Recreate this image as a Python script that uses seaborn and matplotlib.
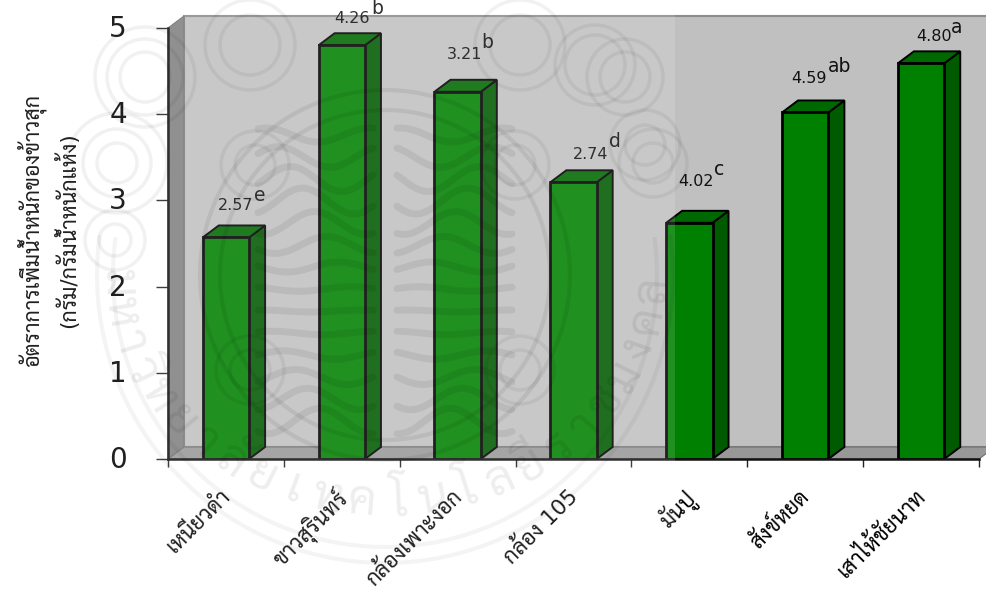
import numpy as np
import pandas as pd
import matplotlib
matplotlib.use('Agg')
import matplotlib.pyplot as plt
from matplotlib.patches import Polygon, Circle, Rectangle, Arc
from matplotlib.transforms import ScaledTranslation
import seaborn as sns

# Rice varieties and the water-uptake rate of the cooked grain
varieties = ['เหนียวดำ', 'ขาวสุรินทร์', 'กล้องเพาะงอก', 'กล้อง 105', 'มันปู', 'สังข์หยด', 'เสาไห้ชัยนาท']
bar_heights = [2.57, 4.80, 4.26, 3.21, 2.74, 4.02, 4.59]
# Printed labels run one bar out of step with the heights, so they stay a separate list
printed_values = ['2.57', '4.26', '3.21', '2.74', '4.02', '4.59', '4.80']
group_letters = ['e', 'b', 'b', 'd', 'c', 'ab', 'a']
y_ticks = [0, 1, 2, 3, 4, 5]

# Label offsets from the front face of each bar, in pixels
value_offsets = [(10, 32), (10, 27), (7, 37), (17, 28), (7, 41), (4, 34), (13, 27)]
letter_offsets = [(34, 42), (35, 37), (30, 49), (41, 41), (30, 53), (34, 46), (36, 36)]

W, H = 987, 589
DPI = 100
LEFT, RIGHT, TOP, BOTTOM = 168, 979, 28, 459
DEPTH_X, DEPTH_Y = 16, 12

sns.set_style('white')
plt.rcParams['font.family'] = ['DejaVu Sans', 'Sarabun']
plt.rcParams['text.color'] = 'black'
plt.rcParams['axes.labelcolor'] = 'black'
plt.rcParams['xtick.labelcolor'] = 'black'
plt.rcParams['ytick.labelcolor'] = 'black'

fig = plt.figure(figsize=(W / DPI, H / DPI), dpi=DPI)
ax = fig.add_axes([LEFT / W, 1 - BOTTOM / H, (RIGHT - LEFT) / W, (BOTTOM - TOP) / H])
ax.set_facecolor('none')

df = pd.DataFrame({'variety': varieties, 'rate': bar_heights})
sns.barplot(data=df, x='variety', y='rate', color='#008000', saturation=1, width=0.4,
            edgecolor='black', linewidth=2, ax=ax, zorder=3)
ax.set_xlim(-0.5, 6.5)
ax.set_ylim(0, 5)

# Box walls in axes fractions, with the depth of the 3D look
dx_ax = DEPTH_X / (RIGHT - LEFT)
dy_ax = DEPTH_Y / (BOTTOM - TOP)
ax.add_patch(Rectangle((dx_ax, dy_ax), 1, 1, transform=ax.transAxes, fc='#C0C0C0',
                       ec='#8c8c8c', lw=1.5, clip_on=False, zorder=0.1))
ax.add_patch(Polygon([(0, 0), (dx_ax, dy_ax), (dx_ax, 1 + dy_ax), (0, 1)], transform=ax.transAxes,
                     fc='#808080', ec='#707070', lw=0.8, clip_on=False, zorder=0.2))
ax.add_patch(Polygon([(0, 0), (dx_ax, dy_ax), (1 + dx_ax, dy_ax), (1, 0)], transform=ax.transAxes,
                     fc='#989898', ec='#6e6e6e', lw=0.8, clip_on=False, zorder=0.2))

# Top and side faces of each bar
dx = DEPTH_X / ((RIGHT - LEFT) / 7)
dy = DEPTH_Y / ((BOTTOM - TOP) / 5)
for bar in list(ax.patches):
    if bar.get_zorder() != 3:
        continue
    x0, x1, h = bar.get_x(), bar.get_x() + bar.get_width(), bar.get_height()
    ax.add_patch(Polygon([(x1, 0), (x1 + dx, dy), (x1 + dx, h + dy), (x1, h)], fc='#005a00',
                         ec='black', lw=1.4, clip_on=False, zorder=2))
    ax.add_patch(Polygon([(x0, h), (x0 + dx, h + dy), (x1 + dx, h + dy), (x1, h)], fc='#006800',
                         ec='black', lw=1.4, clip_on=False, zorder=2))

# Printed value and significance letter above each bar
for i, h in enumerate(bar_heights):
    ax.annotate(printed_values[i], xy=(i, h), xytext=value_offsets[i], textcoords='offset pixels',
                ha='center', va='center', fontsize=11.5, color='#111111', zorder=5)
    ax.annotate(group_letters[i], xy=(i, h), xytext=letter_offsets[i], textcoords='offset pixels',
                ha='center', va='center', fontsize=13.5, color='#111111', zorder=5,
                annotation_clip=False)

# Ticks fall on the category boundaries, names sit under the bars
ax.set_xticks(np.arange(-0.5, 7, 1))
ax.set_xticklabels([])
ax.set_xticks(np.arange(7), minor=True)
ax.set_xticklabels(varieties, minor=True, rotation=45, ha='right', rotation_mode='anchor', fontsize=15.5)
ax.tick_params(axis='x', which='major', bottom=True, length=6, width=1, color='#222222')
ax.tick_params(axis='x', which='minor', bottom=True, length=0, pad=19)
shift_left = ScaledTranslation(-7 / DPI, 0, fig.dpi_scale_trans)
for lab in ax.get_xticklabels(minor=True):
    lab.set_transform(lab.get_transform() + shift_left)
ax.set_yticks(y_ticks)
ax.tick_params(axis='y', left=True, length=8.6, width=1, color='#222222', labelsize=20, pad=21)
raise_labels = ScaledTranslation(0, 2 / DPI, fig.dpi_scale_trans)
for lab in ax.get_yticklabels():
    lab.set_transform(lab.get_transform() + raise_labels)
ax.set_xlabel('')
ax.set_ylabel('อัตราการเพิ่มน้ำหนักของข้าวสุก\n(กรัม/กรัมน้ำหนักแห้ง)', fontsize=15.5, linespacing=1.4)
ax.yaxis.set_label_coords(-89 / (RIGHT - LEFT), 0.53)
for side in ('top', 'right'):
    ax.spines[side].set_visible(False)
for side in ('left', 'bottom'):
    ax.spines[side].set_visible(True)
    ax.spines[side].set_color('#111111')
    ax.spines[side].set_linewidth(1.8)
    ax.spines[side].set_zorder(4)

# University seal laid faintly over the left part of the page
seal = fig.add_axes([0, 0, 1, 1], zorder=10)
seal.set_xlim(0, W)
seal.set_ylim(H, 0)
seal.axis('off')
seal.patch.set_alpha(0)
seal.add_patch(Rectangle((0, 0), 675, H, fc='white', ec='none', alpha=0.13))
ink = dict(color='black', alpha=0.065)
CX, CY = 385, 275
for r in (165, 185):
    seal.add_patch(Circle((CX, CY), r, fill=False, lw=3, ec='black', alpha=0.065))
for r in (272, 288):
    seal.add_patch(Arc((CX, CY), 2 * r, 2 * r, theta1=-8, theta2=188, lw=3, ec='black', alpha=0.045))
for cx, cy, radii in [(145, 77, (25, 38, 50)), (117, 163, (20, 34, 50)), (250, 45, (30, 45)),
                      (625, 77, (25, 38)), (653, 163, (20, 34)), (520, 45, (30, 45)),
                      (595, 65, (30, 40)), (645, 145, (20, 35)), (115, 240, (16, 30)),
                      (255, 165, (20, 34)), (515, 165, (20, 34)), (250, 370, (20, 34)),
                      (520, 370, (20, 34))]:
    for r in radii:
        seal.add_patch(Circle((cx, cy), r, fill=False, lw=2.5, ec='black', alpha=0.055))
# Flame pattern in the middle of the seal, mirrored about its centre
t = np.linspace(0, 1, 60)
for row in np.arange(135, 430, 22):
    bend = np.sin((row - 135) / 38.0)
    for sign in (-1, 1):
        xs = CX + sign * (12 + 115 * t)
        ys = row + (7 + 6 * bend) * np.sin(t * 7 + row / 30.0)
        seal.plot(xs, ys, lw=5, solid_capstyle='round', **ink)
# Name of the university bent along the lower rim
rim_text = ['ม', 'ห', 'า', 'วิ', 'ท', 'ย', 'า', 'ลั', 'ย', 'เ', 'ท', 'ค', 'โ', 'น', 'โ', 'ล', 'ยี',
            'ร', 'า', 'ช', 'ม', 'ง', 'ค', 'ล']
for ch, phi in zip(rim_text, np.linspace(-88, 86, len(rim_text))):
    a = np.radians(phi)
    seal.text(CX + 268 * np.sin(a), CY + 228 * np.cos(a), ch, rotation=phi, ha='center', va='center',
              fontsize=34, color='black', alpha=0.07)

fig.savefig('out.png', dpi=DPI)
